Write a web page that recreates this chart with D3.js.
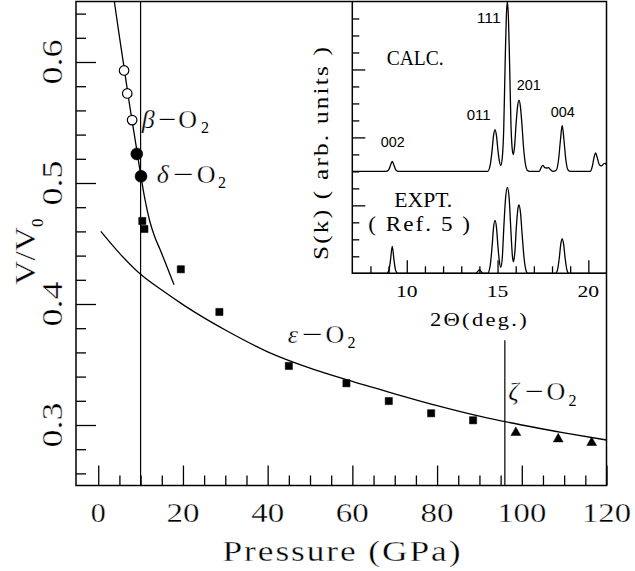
<!DOCTYPE html>
<html>
<head>
<meta charset="utf-8">
<script src="https://cdn.jsdelivr.net/npm/d3@7"></script>
<style>
  html, body { margin: 0; padding: 0; background: #fff; }
  svg { display: block; }
</style>
</head>
<body>
<svg id="chart" width="635" height="571"></svg>
<script>
// ---- axis tick labels ----
const pressureLabels = [0, 20, 40, 60, 80, 100, 120];
const volumeLabels = [0.3, 0.4, 0.5, 0.6];
const twoThetaLabels = [10, 15, 20];

// ---- phase boundaries (GPa) ----
const boundaryBetaDelta = 10;
const boundaryEpsZeta = 96;
const boundaryEpsZetaTop = 0.37;   // V/V0 where the zeta boundary line stops

// ---- measured V/V0 vs pressure ----
const betaPoints = [[6.1, 0.593], [6.85, 0.574], [8.0, 0.552]];
const deltaPoints = [[9.1, 0.524], [10.1, 0.5055]];
const epsilonPoints = [[10.4, 0.4686], [10.9, 0.462], [19.5, 0.4287], [28.6, 0.3934],
  [45.0, 0.3488], [58.6, 0.3345], [68.6, 0.3198], [78.6, 0.3097], [88.5, 0.3039]];
const zetaPoints = [[98.6, 0.2937], [108.6, 0.2884], [116.5, 0.2854]];

// ---- calculated equations of state ----
const eosBetaDelta = [[3.8, 0.650], [5.0, 0.621], [6.2, 0.593], [7.2, 0.569], [8.2, 0.547],
  [9.2, 0.525], [10.1, 0.505], [11.0, 0.487], [12.2, 0.468], [13.4, 0.455], [14.6, 0.445],
  [16.2, 0.431], [17.9, 0.416]];
const eosEpsilon = [[0.6, 0.460], [5, 0.442], [10, 0.4245], [15, 0.4115], [20, 0.3995],
  [25, 0.3885], [30, 0.3785], [40, 0.3605], [50, 0.3470], [60, 0.3360], [70, 0.3258],
  [80, 0.3160], [90, 0.3073], [100, 0.3000], [110, 0.2935], [120, 0.2876]];

// ---- diffraction patterns S(k) vs 2-theta (deg), arbitrary units ----
const calcPattern = [[7.0, 6.0], [8.85, 6.0], [9.0, 6.08], [9.1, 6.35], [9.2, 6.59], [9.3, 6.35],
  [9.4, 6.08], [9.55, 6.0], [14.45, 6.0], [14.6, 6.4], [14.7, 7.25], [14.78, 8.1], [14.86, 8.46],
  [14.94, 8.1], [15.02, 7.25], [15.1, 6.6], [15.18, 6.35], [15.26, 6.8], [15.34, 8.5],
  [15.42, 12.5], [15.48, 15.0], [15.54, 16.0], [15.6, 15.0], [15.66, 12.5], [15.74, 8.7],
  [15.82, 7.2], [15.87, 6.99], [15.94, 7.5], [16.02, 8.8], [16.1, 9.8], [16.18, 10.19],
  [16.26, 9.8], [16.34, 8.8], [16.44, 7.3], [16.54, 6.4], [16.65, 6.05], [16.75, 6.0],
  [17.3, 6.0], [17.4, 6.22], [17.5, 6.35], [17.6, 6.22], [17.7, 6.2], [17.8, 6.22],
  [17.92, 6.1], [18.05, 6.0], [18.25, 6.1], [18.36, 6.7], [18.46, 7.8], [18.56, 8.7],
  [18.66, 7.8], [18.76, 6.7], [18.87, 6.1], [19.0, 6.0], [20.1, 6.0], [20.22, 6.3],
  [20.32, 6.85], [20.4, 7.09], [20.48, 6.85], [20.6, 6.4], [20.72, 6.32], [20.85, 6.45],
  [20.92, 6.47], [21.0, 6.4]];
const exptPattern = [[7.0, 0], [8.9, 0], [9.02, 0.2], [9.1, 0.75], [9.2, 1.58], [9.3, 0.75],
  [9.38, 0.2], [9.5, 0], [13.8, 0], [13.9, 0.1], [14.0, 0.2], [14.1, 0.1], [14.2, 0],
  [14.45, 0], [14.6, 0.5], [14.7, 1.6], [14.78, 2.7], [14.86, 3.11], [14.94, 2.7],
  [15.02, 1.6], [15.1, 0.7], [15.18, 0.35], [15.26, 0.9], [15.34, 2.6], [15.44, 4.4],
  [15.54, 5.06], [15.64, 4.4], [15.74, 2.4], [15.82, 1.0], [15.88, 0.68], [15.95, 1.2],
  [16.04, 2.8], [16.12, 3.8], [16.18, 4.03], [16.26, 3.6], [16.36, 2.2], [16.46, 0.9],
  [16.56, 0.2], [16.66, 0], [18.2, 0], [18.3, 0.2], [18.4, 0.9], [18.48, 1.7], [18.56, 2.02],
  [18.64, 1.7], [18.72, 0.9], [18.82, 0.2], [18.92, 0], [21.0, 0]];

const hklLabels = ["002", "011", "111", "201", "004"];

// ---------------------------------------------------------------
const svg = d3.select("#chart");
const SERIF = "Liberation Serif, Times New Roman, serif";
const SANS = "Liberation Sans, Arial, sans-serif";

const x = d3.scaleLinear().domain([-5.25, 120]).range([76, 606.5]);
const y = d3.scaleLinear().domain([0.25, 0.65]).range([485.5, 1.5]);
const ix = d3.scaleLinear().domain([7, 21]).range([352.3, 606.5]);
const iy = d3.scaleLinear().domain([0, 16]).range([273.3, 1.5]);

const stroke = "#000";

function styleAxis(g) {
  g.select(".domain").remove();
  g.selectAll(".tick line").attr("stroke", stroke).attr("stroke-width", 1.3);
  g.selectAll(".tick text").remove();
}

// text helper: optional horizontal glyph widening (sx), fit to a length, thinning halo
function txt(parent, str, px, py, o = {}) {
  const sx = o.sx || 1;
  const t = parent.append("text")
    .attr("font-family", o.family || SERIF)
    .attr("font-size", o.size || 28)
    .attr("font-style", o.italic ? "italic" : null)
    .attr("text-anchor", o.anchor || "start")
    .attr("fill", stroke)
    .attr("x", 0).attr("y", 0)
    .attr("transform", `translate(${px},${py})${o.rotate ? " rotate(-90)" : ""}${sx !== 1 ? ` scale(${sx},1)` : ""}`)
    .text(str);
  if (o.len) t.attr("textLength", o.len / sx).attr("lengthAdjust", o.adjust || "spacingAndGlyphs");
  if (o.thin) t.attr("stroke", "#fff").attr("stroke-width", o.thin);
  return t;
}

// ---- main axes ticks ----
const pMinor = d3.range(0, 121, 5).filter(v => v % 20 !== 0);
const vMinor = d3.range(26, 65, 2).filter(v => v % 10 !== 0).map(v => v / 100);

svg.append("g").attr("transform", `translate(0,${y(0.25)})`)
  .call(d3.axisBottom(x).tickValues(pMinor).tickSize(-10).tickSizeOuter(0)).call(styleAxis);
svg.append("g").attr("transform", `translate(0,${y(0.25)})`)
  .call(d3.axisBottom(x).tickValues(pressureLabels).tickSize(-20).tickSizeOuter(0)).call(styleAxis);
svg.append("g").attr("transform", `translate(${x.range()[0]},0)`)
  .call(d3.axisLeft(y).tickValues(vMinor).tickSize(-10).tickSizeOuter(0)).call(styleAxis);
svg.append("g").attr("transform", `translate(${x.range()[0]},0)`)
  .call(d3.axisLeft(y).tickValues(volumeLabels).tickSize(-20).tickSizeOuter(0)).call(styleAxis);

// ---- inset axes ticks ----
const tMinor = d3.range(8, 21, 1).filter(v => !twoThetaLabels.includes(v));
const sMinor = d3.range(1, 16, 1).filter(v => v % 4 !== 0);
const sMajor = [4, 8, 12];
svg.append("g").attr("transform", `translate(0,${iy(0)})`)
  .call(d3.axisBottom(ix).tickValues(tMinor).tickSize(-7).tickSizeOuter(0)).call(styleAxis);
svg.append("g").attr("transform", `translate(0,${iy(0)})`)
  .call(d3.axisBottom(ix).tickValues(twoThetaLabels).tickSize(-13).tickSizeOuter(0)).call(styleAxis);
svg.append("g").attr("transform", `translate(${ix.range()[0]},0)`)
  .call(d3.axisLeft(iy).tickValues(sMinor).tickSize(-7).tickSizeOuter(0)).call(styleAxis);
svg.append("g").attr("transform", `translate(${ix.range()[0]},0)`)
  .call(d3.axisLeft(iy).tickValues(sMajor).tickSize(-13).tickSizeOuter(0)).call(styleAxis);

// ---- frames ----
svg.append("rect")
  .attr("x", x.range()[0]).attr("y", y.range()[1])
  .attr("width", x.range()[1] - x.range()[0]).attr("height", y.range()[0] - y.range()[1])
  .attr("fill", "none").attr("stroke", stroke).attr("stroke-width", 1.5);
svg.append("path")
  .attr("d", `M${ix.range()[0]},${iy.range()[1]}V${iy(0)}H${ix.range()[1]}`)
  .attr("fill", "none").attr("stroke", stroke).attr("stroke-width", 1.5);

// ---- phase boundary lines ----
svg.append("line")
  .attr("x1", x(boundaryBetaDelta)).attr("x2", x(boundaryBetaDelta))
  .attr("y1", y(0.65)).attr("y2", y(0.25))
  .attr("stroke", stroke).attr("stroke-width", 1.2);
svg.append("line")
  .attr("x1", x(boundaryEpsZeta)).attr("x2", x(boundaryEpsZeta))
  .attr("y1", y(boundaryEpsZetaTop)).attr("y2", y(0.25))
  .attr("stroke", stroke).attr("stroke-width", 1.2);

// ---- equation-of-state curves ----
const eosLine = d3.line().x(d => x(d[0])).y(d => y(d[1])).curve(d3.curveMonotoneX);
[eosBetaDelta, eosEpsilon].forEach(c => {
  svg.append("path").attr("d", eosLine(c))
    .attr("fill", "none").attr("stroke", stroke).attr("stroke-width", 1.3);
});

// ---- diffraction patterns ----
const patLine = d3.line().x(d => ix(d[0])).y(d => iy(d[1])).curve(d3.curveMonotoneX);
[calcPattern, exptPattern].forEach(c => {
  svg.append("path").attr("d", patLine(c))
    .attr("fill", "none").attr("stroke", stroke).attr("stroke-width", 1.3);
});

// ---- data markers ----
function markers(data, type, size, filled) {
  svg.append("g").selectAll("path").data(data).join("path")
    .attr("transform", d => `translate(${x(d[0])},${y(d[1])})`)
    .attr("d", d3.symbol().type(type).size(size))
    .attr("fill", filled ? stroke : "#fff")
    .attr("stroke", stroke).attr("stroke-width", filled ? 0.5 : 1.2);
}
markers(betaPoints, d3.symbolCircle, 72, false);
markers(deltaPoints, d3.symbolCircle, 113, true);
markers(epsilonPoints, d3.symbolSquare, 52, true);
markers(zetaPoints, d3.symbolTriangle, 42, true);

// ---- main tick labels ----
pressureLabels.forEach(v => {
  const s = String(v);
  txt(svg, s, x(v), 522, { anchor: "middle", size: 28, thin: 0.35,
    len: s.length === 1 ? 15 : s.length === 2 ? 33 : 49 });
});
volumeLabels.forEach(v => {
  txt(svg, v.toFixed(1), 62, y(v), { anchor: "middle", size: 29, len: 45, rotate: true, thin: 0.35 });
});

// ---- axis titles ----
txt(svg, "Pressure (GPa)", 341.5, 561, { anchor: "middle", size: 30, len: 238, sx: 1.18, adjust: "spacing", thin: 0.35 });
txt(svg, "V/V", 35, 285, { size: 30, len: 58, rotate: true, thin: 0.35 });
txt(svg, "0", 43, 227, { size: 17, rotate: true });

// ---- phase labels ----
function phaseLabel(greek, gx, base, dashX, dashLen, oX, subX, subDy) {
  txt(svg, greek, gx, base, { size: 26, italic: true, thin: 0.25 });
  txt(svg, "\u2212", dashX, base, { size: 26, len: dashLen, thin: 0.25 });
  txt(svg, "O", oX, base, { size: 26, thin: 0.3 });
  txt(svg, "2", subX, base + subDy, { size: 16 });
}
phaseLabel("\u03b2", 141.7, 128, 158.3, 18.4, 178.3, 201.0, 5);
phaseLabel("\u03b4", 156.7, 183, 173.0, 21.0, 196.7, 218.0, 5);
phaseLabel("\u03b5", 287.8, 343, 302.0, 21.0, 325.5, 347.5, 5);
phaseLabel("\u03b6", 508.3, 400, 525.0, 19.0, 546.5, 568.5, 6);

// ---- inset labels ----
twoThetaLabels.forEach(v => {
  txt(svg, String(v), ix(v), 297, { anchor: "middle", size: 17, len: 21.6 });
});
txt(svg, "2\u0398(deg.)", 430, 325.7, { size: 18, len: 96.7, sx: 1.25, adjust: "spacing" });
txt(svg, "S(k) ( arb. units )", 328, 260, { size: 21, len: 213, rotate: true, sx: 1.2, adjust: "spacing" });
txt(svg, "CALC.", 386.7, 65, { size: 21, len: 57 });
txt(svg, "EXPT.", 394.3, 206.7, { size: 21, len: 58 });
txt(svg, "( Ref. 5 )", 368.3, 231, { size: 21, len: 101.7, sx: 1.1, adjust: "spacing" });

const hklPos = [[380.7, 146.7], [466.7, 120], [476.7, 23.3], [516.7, 90], [550.7, 116.7]];
hklLabels.forEach((h, i) => {
  txt(svg, h, hklPos[i][0], hklPos[i][1], { family: SANS, size: 14, len: 24 });
});
</script>
</body>
</html>
